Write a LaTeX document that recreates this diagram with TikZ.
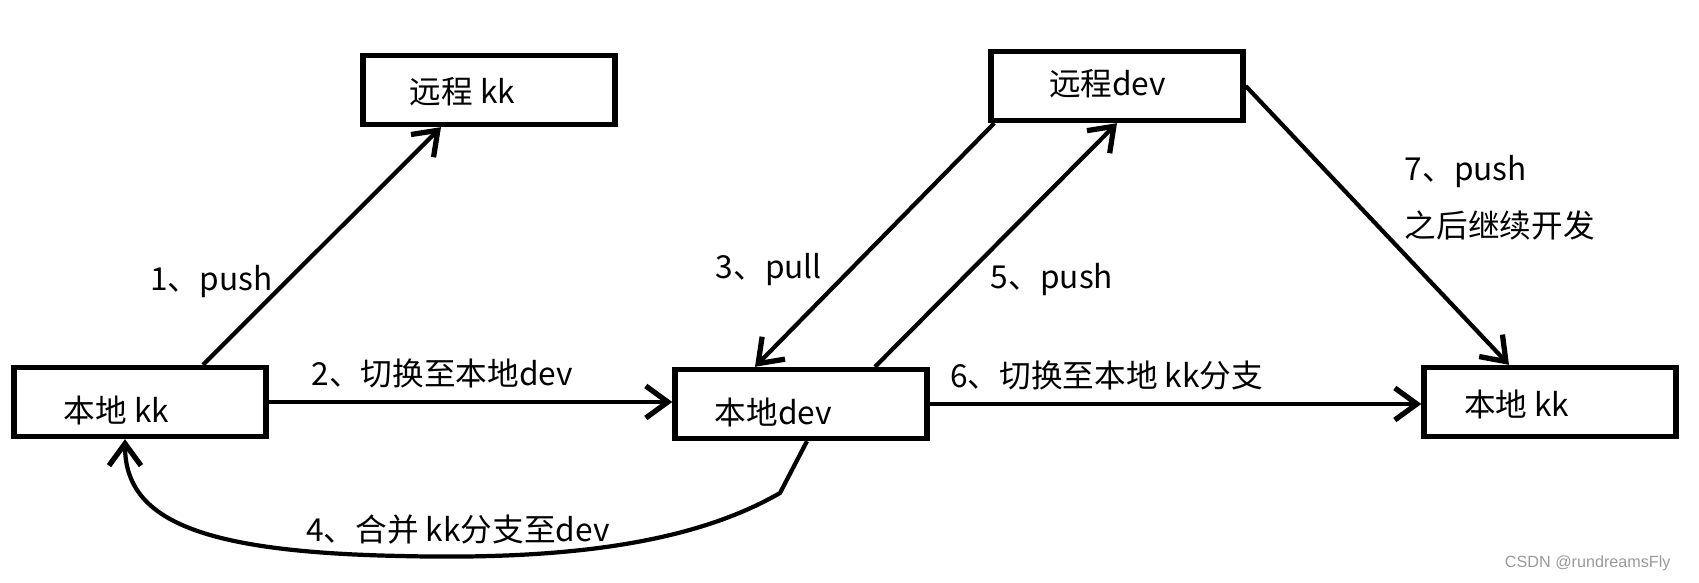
\documentclass[tikz,border=0pt]{standalone}
\usepackage{fontspec}
\setmainfont{Noto Sans CJK SC}
\newfontfamily\markfont{Liberation Sans}
\usetikzlibrary{arrows.meta, positioning, calc}

\begin{document}
\begin{tikzpicture}[
    x=0.01cm, y=-0.01cm,
    >={Straight Barb[length=2.2mm, width=3.2mm, line width=1.5pt]},
    box style/.style={draw, line width=1.5pt, minimum width=2.52cm, minimum height=0.69cm, inner sep=0pt},
    text style/.style={inner sep=0pt, anchor=west, font=\fontsize{9}{11}\selectfont},
    label style/.style={font=\fontsize{9}{11}\selectfont},
    path style/.style={line width=1.2pt, ->}
]
\useasboundingbox (0,0) rectangle (1699,583);

% Draw the boxes
\node[box style] (rkk) at (489,90) {};
\node[box style] (lkk) at (140,402) {};
\node[box style] (ldev) at (801,404) {};
\node[box style] (rdev) at (1117,86) {};
\node[box style] (lkk2) at (1550,402) {};

% Box texts (not centred in the boxes)
\node[text style] (rkkt) at ($(rkk.west)+(49,2)$) {远程 kk};
\node[text style] (lkkt) at ($(lkk.west)+(52,8)$) {本地 kk};
\node[text style] (ldevt) at ($(ldev.west)+(42,8)$) {本地dev};
\node[text style] (rdevt) at ($(rdev.west)+(60,-2)$) {远程dev};
\node[text style] (lkk2t) at ($(lkk2.west)+(42,2)$) {本地 kk};

% Steps 1 to 7
\draw[path style] ($(lkk.north)+(63,0)$) -- node[label style, pos=0.35, left] (l1) {1、push} ($(rkk.south)+(-48,0)$);
\draw[path style] (lkk.east) -- node[label style, pos=0.43, above] (l2) {2、切换至本地dev} (lkk.east -| ldev.west);
\draw[path style] ($(rdev.south west)+(6,0)$) -- node[label style, pos=0.6, left=1.5mm] (l3) {3、pull} ($(ldev.north)+(-46,0)$);
\draw[path style] ($(ldev.south)+(6,0)$) -- (780,493) .. controls (690,545) and (560,560) .. (400,556)
    .. controls (200,552) and (125,520) .. ($(lkk.south)+(-15,0)$);
\node[label style] (l4) at (458,530) {4、合并 kk分支至dev};
\draw[path style] ($(ldev.north)+(74,0)$) -- node[label style, pos=0.36, right=1.5mm] (l5) {5、push} (rdev.south);
\draw[path style] (ldev.east) -- node[label style, pos=0.36, above] (l6) {6、切换至本地 kk分支} (ldev.east -| lkk2.west);
\draw[path style] (rdev.east) -- node[label style, font=\fontsize{9}{16.2}\selectfont, pos=0.4, right=4mm, align=left] (l7) {7、push\\之后继续开发} ($(lkk2.north)+(-41,0)$);

% Watermark
\node[font=\markfont\fontsize{4.6}{6}\selectfont, text=gray!80, anchor=east] (mark) at (1683,563) {CSDN @rundreamsFly};
\end{tikzpicture}
\end{document}
